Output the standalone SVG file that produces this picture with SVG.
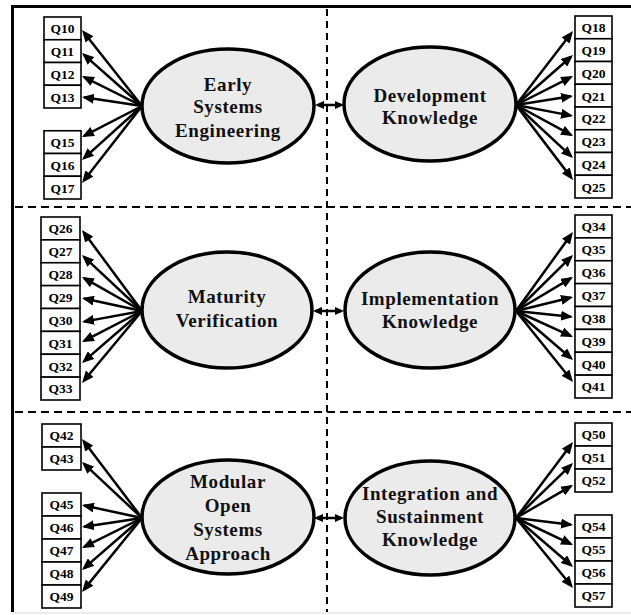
<svg xmlns="http://www.w3.org/2000/svg" width="631" height="615" viewBox="0 0 631 615">
<style>
.bg{fill:#ffffff}
.frame{stroke:#000;stroke-width:3;fill:none}
.dash{stroke:#000;stroke-width:2;fill:none}
.box rect{fill:#fff;stroke:#000;stroke-width:1.6}
.box text{font-family:"Liberation Serif","Times New Roman",serif;font-weight:bold;font-size:13.5px;text-anchor:middle;fill:#000}
.lat ellipse{fill:#ebebeb;stroke:#000;stroke-width:3.5}
.lat text{font-family:"Liberation Serif","Times New Roman",serif;font-weight:bold;font-size:19px;letter-spacing:0.6px;text-anchor:middle;fill:#111}
.c{stroke:#000;stroke-width:2.5;fill:none;marker-end:url(#ah);stroke-dasharray:96.5 10}
.d{stroke:#000;stroke-width:2.5;fill:none;marker-end:url(#dh);marker-start:url(#dh)}
</style>
<defs>
<marker id="ah" markerUnits="userSpaceOnUse" markerWidth="12" markerHeight="10" refX="12" refY="5" orient="auto"><path d="M0,0 L12,5 L0,10 z" fill="#000"/></marker>
<marker id="dh" markerUnits="userSpaceOnUse" markerWidth="9" markerHeight="8" refX="6" refY="4" orient="auto-start-reverse"><path d="M0,0 L9,4 L0,8 z" fill="#000"/></marker>
</defs>
<rect class="bg" x="0" y="0" width="631" height="615"/>
<g id="frame">
<line class="frame" x1="11" y1="6.5" x2="631" y2="6.5"/>
<line class="frame" x1="12.5" y1="5" x2="12.5" y2="612"/>
<line x1="12" y1="613" x2="631" y2="613" stroke="#dcdcdc" stroke-width="1"/>
<line class="dash" x1="15" y1="207" x2="631" y2="207" stroke-dasharray="8 5"/>
<line class="dash" x1="15" y1="412" x2="631" y2="412" stroke-dasharray="8 5"/>
<line class="dash" x1="327" y1="9" x2="327" y2="612" stroke-dasharray="7 5"/>
</g>
<g id="connectors">
<line class="c" pathLength="100" x1="142" y1="106" x2="82" y2="30"/>
<line class="c" pathLength="100" x1="142" y1="106" x2="82" y2="53"/>
<line class="c" pathLength="100" x1="142" y1="106" x2="82" y2="76"/>
<line class="c" pathLength="100" x1="142" y1="106" x2="82" y2="97"/>
<line class="c" pathLength="100" x1="142" y1="106" x2="82" y2="137"/>
<line class="c" pathLength="100" x1="142" y1="106" x2="82" y2="160"/>
<line class="c" pathLength="100" x1="142" y1="106" x2="82" y2="183"/>

<line class="c" pathLength="100" x1="516" y1="105" x2="573" y2="31"/>
<line class="c" pathLength="100" x1="516" y1="105" x2="573" y2="55"/>
<line class="c" pathLength="100" x1="516" y1="105" x2="573" y2="76"/>
<line class="c" pathLength="100" x1="516" y1="105" x2="573" y2="96"/>
<line class="c" pathLength="100" x1="516" y1="105" x2="573" y2="116"/>
<line class="c" pathLength="100" x1="516" y1="105" x2="573" y2="136"/>
<line class="c" pathLength="100" x1="516" y1="105" x2="573" y2="158"/>
<line class="c" pathLength="100" x1="516" y1="105" x2="573" y2="180"/>

<line class="c" pathLength="100" x1="142" y1="311" x2="82" y2="230"/>
<line class="c" pathLength="100" x1="142" y1="311" x2="82" y2="255"/>
<line class="c" pathLength="100" x1="142" y1="311" x2="82" y2="277"/>
<line class="c" pathLength="100" x1="142" y1="311" x2="82" y2="298"/>
<line class="c" pathLength="100" x1="142" y1="311" x2="82" y2="322"/>
<line class="c" pathLength="100" x1="142" y1="311" x2="82" y2="342"/>
<line class="c" pathLength="100" x1="142" y1="311" x2="82" y2="363"/>
<line class="c" pathLength="100" x1="142" y1="311" x2="82" y2="383"/>

<line class="c" pathLength="100" x1="516" y1="311" x2="573" y2="232"/>
<line class="c" pathLength="100" x1="516" y1="311" x2="573" y2="255"/>
<line class="c" pathLength="100" x1="516" y1="311" x2="573" y2="277"/>
<line class="c" pathLength="100" x1="516" y1="311" x2="573" y2="297"/>
<line class="c" pathLength="100" x1="516" y1="311" x2="573" y2="317"/>
<line class="c" pathLength="100" x1="516" y1="311" x2="573" y2="337"/>
<line class="c" pathLength="100" x1="516" y1="311" x2="573" y2="360"/>
<line class="c" pathLength="100" x1="516" y1="311" x2="573" y2="382"/>

<line class="c" pathLength="100" x1="142" y1="518" x2="82" y2="439"/>
<line class="c" pathLength="100" x1="142" y1="518" x2="82" y2="462"/>
<line class="c" pathLength="100" x1="142" y1="518" x2="82" y2="505"/>
<line class="c" pathLength="100" x1="142" y1="518" x2="82" y2="527"/>
<line class="c" pathLength="100" x1="142" y1="518" x2="82" y2="548"/>
<line class="c" pathLength="100" x1="142" y1="518" x2="82" y2="570"/>
<line class="c" pathLength="100" x1="142" y1="518" x2="82" y2="592"/>

<line class="c" pathLength="100" x1="516" y1="518" x2="573" y2="442"/>
<line class="c" pathLength="100" x1="516" y1="518" x2="573" y2="463"/>
<line class="c" pathLength="100" x1="516" y1="518" x2="573" y2="485"/>
<line class="c" pathLength="100" x1="516" y1="518" x2="573" y2="525"/>
<line class="c" pathLength="100" x1="516" y1="518" x2="573" y2="545"/>
<line class="c" pathLength="100" x1="516" y1="518" x2="573" y2="567"/>
<line class="c" pathLength="100" x1="516" y1="518" x2="573" y2="588"/>

<line class="d" x1="318" y1="105" x2="341" y2="105"/>
<line class="d" x1="316" y1="311" x2="341" y2="311"/>
<line class="d" x1="317" y1="518" x2="341" y2="518"/>
</g>

<g id="EarlySystemsEngineering" class="lat"><ellipse cx="228" cy="106" rx="86" ry="57"/><text x="228" y="91">Early</text><text x="228" y="113">Systems</text><text x="228" y="136.5">Engineering</text></g>
<g id="DevelopmentKnowledge" class="lat"><ellipse cx="430" cy="104" rx="86" ry="57"/><text x="430" y="102">Development</text><text x="430" y="124">Knowledge</text></g>
<g id="MaturityVerification" class="lat"><ellipse cx="227" cy="310" rx="85" ry="58"/><text x="227" y="303">Maturity</text><text x="227" y="327">Verification</text></g>
<g id="ImplementationKnowledge" class="lat"><ellipse cx="430" cy="310" rx="85" ry="58"/><text x="430" y="305">Implementation</text><text x="430" y="328">Knowledge</text></g>
<g id="MOSA" class="lat"><ellipse cx="228" cy="517" rx="86" ry="57"/><text x="228" y="488">Modular</text><text x="228" y="512">Open</text><text x="228" y="536">Systems</text><text x="228" y="560">Approach</text></g>
<g id="IntegrationSustainmentKnowledge" class="lat"><ellipse cx="430" cy="518" rx="85" ry="57"/><text x="430" y="500">Integration and</text><text x="430" y="523">Sustainment</text><text x="430" y="546">Knowledge</text></g>

<g id="Q10" class="box"><rect x="44" y="17" width="37" height="22.75"/><text x="62.5" y="33.2">Q10</text></g>
<g id="Q11" class="box"><rect x="44" y="39.75" width="37" height="22.75"/><text x="62.5" y="56">Q11</text></g>
<g id="Q12" class="box"><rect x="44" y="62.5" width="37" height="22.75"/><text x="62.5" y="78.7">Q12</text></g>
<g id="Q13" class="box"><rect x="44" y="85.25" width="37" height="22.75"/><text x="62.5" y="101.5">Q13</text></g>
<g id="Q15" class="box"><rect x="44" y="130.75" width="37" height="22.75"/><text x="62.5" y="147">Q15</text></g>
<g id="Q16" class="box"><rect x="44" y="153.5" width="37" height="22.75"/><text x="62.5" y="169.7">Q16</text></g>
<g id="Q17" class="box"><rect x="44" y="176.25" width="37" height="22.75"/><text x="62.5" y="192.5">Q17</text></g>

<g id="Q18" class="box"><rect x="575" y="16" width="37" height="22.75"/><text x="593.5" y="32.2">Q18</text></g>
<g id="Q19" class="box"><rect x="575" y="38.75" width="37" height="22.75"/><text x="593.5" y="55">Q19</text></g>
<g id="Q20" class="box"><rect x="575" y="61.5" width="37" height="22.75"/><text x="593.5" y="77.7">Q20</text></g>
<g id="Q21" class="box"><rect x="575" y="84.25" width="37" height="22.75"/><text x="593.5" y="100.5">Q21</text></g>
<g id="Q22" class="box"><rect x="575" y="107" width="37" height="22.75"/><text x="593.5" y="123.2">Q22</text></g>
<g id="Q23" class="box"><rect x="575" y="129.75" width="37" height="22.75"/><text x="593.5" y="146">Q23</text></g>
<g id="Q24" class="box"><rect x="575" y="152.5" width="37" height="22.75"/><text x="593.5" y="168.7">Q24</text></g>
<g id="Q25" class="box"><rect x="575" y="175.25" width="37" height="22.75"/><text x="593.5" y="191.5">Q25</text></g>

<g id="Q26" class="box"><rect x="41" y="217" width="39" height="22.875"/><text x="60.5" y="233.3">Q26</text></g>
<g id="Q27" class="box"><rect x="41" y="239.875" width="39" height="22.875"/><text x="60.5" y="256.2">Q27</text></g>
<g id="Q28" class="box"><rect x="41" y="262.75" width="39" height="22.875"/><text x="60.5" y="279">Q28</text></g>
<g id="Q29" class="box"><rect x="41" y="285.625" width="39" height="22.875"/><text x="60.5" y="301.9">Q29</text></g>
<g id="Q30" class="box"><rect x="41" y="308.5" width="39" height="22.875"/><text x="60.5" y="324.8">Q30</text></g>
<g id="Q31" class="box"><rect x="41" y="331.375" width="39" height="22.875"/><text x="60.5" y="347.7">Q31</text></g>
<g id="Q32" class="box"><rect x="41" y="354.25" width="39" height="22.875"/><text x="60.5" y="370.5">Q32</text></g>
<g id="Q33" class="box"><rect x="41" y="377.125" width="39" height="22.875"/><text x="60.5" y="393.4">Q33</text></g>

<g id="Q34" class="box"><rect x="575" y="215" width="37" height="22.875"/><text x="593.5" y="231.3">Q34</text></g>
<g id="Q35" class="box"><rect x="575" y="237.875" width="37" height="22.875"/><text x="593.5" y="254.2">Q35</text></g>
<g id="Q36" class="box"><rect x="575" y="260.75" width="37" height="22.875"/><text x="593.5" y="277">Q36</text></g>
<g id="Q37" class="box"><rect x="575" y="283.625" width="37" height="22.875"/><text x="593.5" y="299.9">Q37</text></g>
<g id="Q38" class="box"><rect x="575" y="306.5" width="37" height="22.875"/><text x="593.5" y="322.8">Q38</text></g>
<g id="Q39" class="box"><rect x="575" y="329.375" width="37" height="22.875"/><text x="593.5" y="345.7">Q39</text></g>
<g id="Q40" class="box"><rect x="575" y="352.25" width="37" height="22.875"/><text x="593.5" y="368.5">Q40</text></g>
<g id="Q41" class="box"><rect x="575" y="375.125" width="37" height="22.875"/><text x="593.5" y="391.4">Q41</text></g>

<g id="Q42" class="box"><rect x="42" y="424" width="39" height="23"/><text x="61.5" y="440.3">Q42</text></g>
<g id="Q43" class="box"><rect x="42" y="447" width="39" height="23"/><text x="61.5" y="463.3">Q43</text></g>
<g id="Q45" class="box"><rect x="42" y="493" width="39" height="23"/><text x="61.5" y="509.3">Q45</text></g>
<g id="Q46" class="box"><rect x="42" y="516" width="39" height="23"/><text x="61.5" y="532.3">Q46</text></g>
<g id="Q47" class="box"><rect x="42" y="539" width="39" height="23"/><text x="61.5" y="555.3">Q47</text></g>
<g id="Q48" class="box"><rect x="42" y="562" width="39" height="23"/><text x="61.5" y="578.3">Q48</text></g>
<g id="Q49" class="box"><rect x="42" y="585" width="39" height="23"/><text x="61.5" y="601.3">Q49</text></g>

<g id="Q50" class="box"><rect x="575" y="423" width="37" height="23"/><text x="593.5" y="439.3">Q50</text></g>
<g id="Q51" class="box"><rect x="575" y="446" width="37" height="23"/><text x="593.5" y="462.3">Q51</text></g>
<g id="Q52" class="box"><rect x="575" y="469" width="37" height="23"/><text x="593.5" y="485.3">Q52</text></g>
<g id="Q54" class="box"><rect x="575" y="515" width="37" height="23"/><text x="593.5" y="531.3">Q54</text></g>
<g id="Q55" class="box"><rect x="575" y="538" width="37" height="23"/><text x="593.5" y="554.3">Q55</text></g>
<g id="Q56" class="box"><rect x="575" y="561" width="37" height="23"/><text x="593.5" y="577.3">Q56</text></g>
<g id="Q57" class="box"><rect x="575" y="584" width="37" height="23"/><text x="593.5" y="600.3">Q57</text></g>
</svg>
